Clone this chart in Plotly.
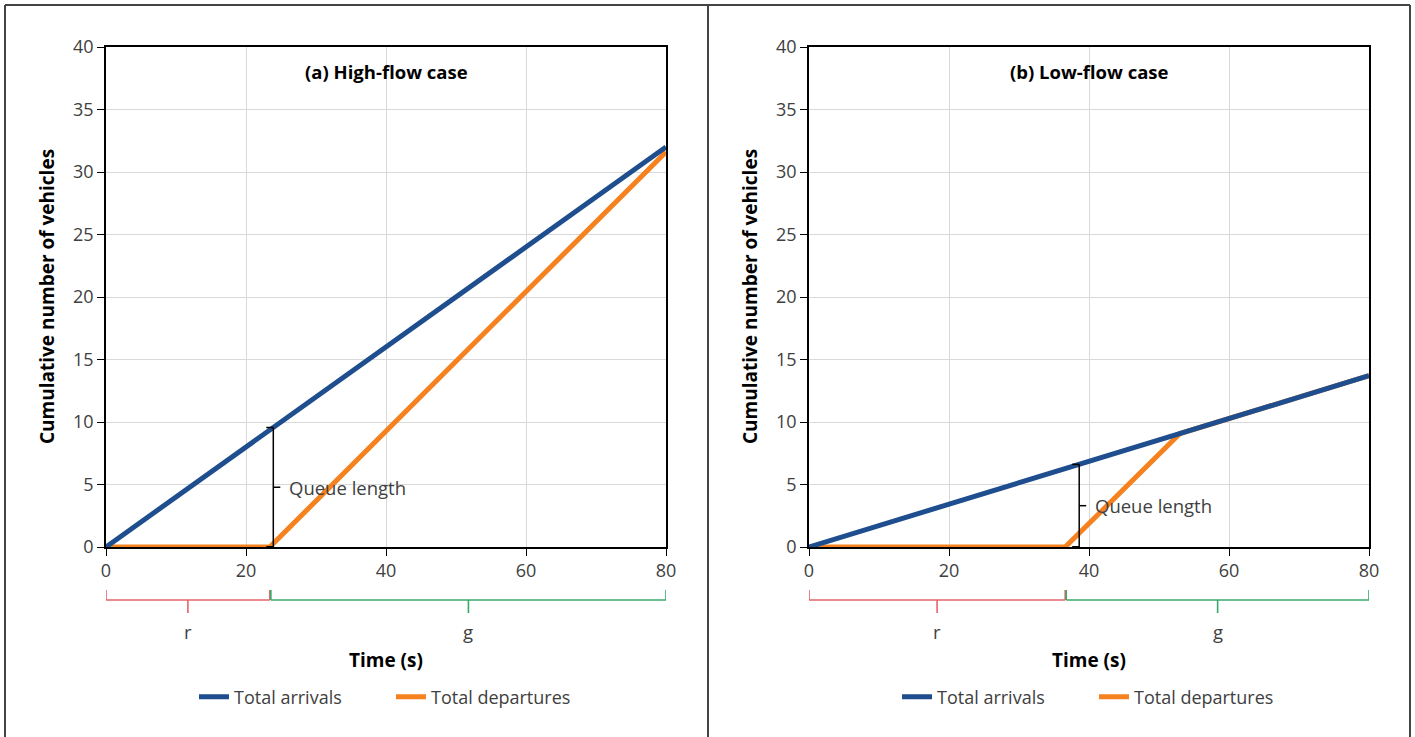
import plotly.graph_objects as go

# ---------------- data ----------------
time_a_arr = [0, 80]
cum_a_arr = [0, 32.0]
time_a_dep = [0, 23.4, 80]
cum_a_dep = [0, 0, 31.6]
red_a = 23.4
queue_t_a = 23.9
queue_n_a = 9.56

time_b_arr = [0, 80]
cum_b_arr = [0, 13.7]
time_b_dep = [0, 36.6, 53.0, 80]
cum_b_dep = [0, 0, 9.08, 13.7]
red_b = 36.6
queue_t_b = 38.6
queue_n_b = 6.61

cycle_end = 80
panel_titles = ["(a) High-flow case", "(b) Low-flow case"]
x_ticks = [0, 20, 40, 60, 80]
y_ticks = [0, 5, 10, 15, 20, 25, 30, 35, 40]

BLUE = "#1F4E8F"
ORANGE = "#F5821F"
RED = "#E5646B"
GREEN = "#3AA86B"
TXT = "#404040"
FONT = "Open Sans"

W, H = 1415, 737
def px(xp):
    return xp / W
def py(yp):
    return 1 - yp / H

fig = go.Figure()

doms = [(px(106), px(666)), (px(809), px(1369))]
ydom = (py(547), py(47))

panels = [
    dict(ta=time_a_arr, ca=cum_a_arr, td=time_a_dep, cd=cum_a_dep, r=red_a, qt=queue_t_a, qn=queue_n_a),
    dict(ta=time_b_arr, ca=cum_b_arr, td=time_b_dep, cd=cum_b_dep, r=red_b, qt=queue_t_b, qn=queue_n_b),
]

shapes = []
annotations = []
for i, p in enumerate(panels):
    xa = "x" if i == 0 else "x2"
    ya = "y" if i == 0 else "y2"
    leg = "legend" if i == 0 else "legend2"
    fig.add_trace(go.Scatter(x=p["td"], y=p["cd"], mode="lines", name="Total departures",
                             line=dict(color=ORANGE, width=5), xaxis=xa, yaxis=ya, legend=leg,
                             legendrank=2))
    fig.add_trace(go.Scatter(x=p["ta"], y=p["ca"], mode="lines", name="Total arrivals",
                             line=dict(color=BLUE, width=5), xaxis=xa, yaxis=ya, legend=leg,
                             legendrank=1))
    # queue length bracket
    tick_w = 1.0  # seconds (~7px)
    lk = dict(color="black", width=1.5)
    shapes += [
        dict(type="line", xref=xa, yref=ya, x0=p["qt"], x1=p["qt"], y0=0, y1=p["qn"], line=lk, layer="above"),
        dict(type="line", xref=xa, yref=ya, x0=p["qt"] - tick_w, x1=p["qt"], y0=p["qn"], y1=p["qn"], line=lk, layer="above"),
        dict(type="line", xref=xa, yref=ya, x0=p["qt"] - tick_w, x1=p["qt"], y0=0.02, y1=0.02, line=lk, layer="above"),
        dict(type="line", xref=xa, yref=ya, x0=p["qt"], x1=p["qt"] + tick_w, y0=p["qn"] / 2, y1=p["qn"] / 2, line=lk, layer="above"),
    ]
    annotations.append(dict(text="Queue length", xref=xa, yref=ya, x=p["qt"] + 2.0, y=p["qn"] / 2,
                            xanchor="left", yanchor="middle", showarrow=False,
                            font=dict(family=FONT, size=18.5, color=TXT)))
    # r / g brackets below the axis
    yb, yt, ym = py(600), py(590), py(613)
    for (a, b, col, lab) in [(0, p["r"], RED, "r"), (p["r"] + 0.15, cycle_end, GREEN, "g")]:
        lc = dict(color=col, width=1.6)
        mid = (a + b) / 2
        shapes += [
            dict(type="line", xref=xa, yref="paper", x0=a, x1=b, y0=yb, y1=yb, line=lc),
            dict(type="line", xref=xa, yref="paper", x0=a, x1=a, y0=yb, y1=yt, line=lc),
            dict(type="line", xref=xa, yref="paper", x0=b, x1=b, y0=yb, y1=yt, line=lc),
            dict(type="line", xref=xa, yref="paper", x0=mid, x1=mid, y0=yb, y1=ym, line=lc),
        ]
        annotations.append(dict(text=lab, xref=xa, yref="paper", x=mid, y=py(631),
                                xanchor="center", yanchor="middle", showarrow=False,
                                font=dict(family=FONT, size=18.5, color=TXT)))
    # panel title
    annotations.append(dict(text="<b>" + panel_titles[i] + "</b>", xref="paper", yref="paper",
                            x=(doms[i][0] + doms[i][1]) / 2, y=py(71), xanchor="center", yanchor="middle",
                            showarrow=False, font=dict(family=FONT, size=18.5, color="black")))
    # axis titles
    annotations.append(dict(text="<b>Time (s)</b>", xref="paper", yref="paper",
                            x=(doms[i][0] + doms[i][1]) / 2, y=py(660), xanchor="center", yanchor="middle",
                            showarrow=False, font=dict(family=FONT, size=19, color="black")))
    annotations.append(dict(text="<b>Cumulative number of vehicles</b>", xref="paper", yref="paper",
                            x=px(47 if i == 0 else 750), y=(ydom[0] + ydom[1]) / 2, textangle=-90,
                            xanchor="center", yanchor="middle",
                            showarrow=False, font=dict(family=FONT, size=19, color="black")))

# outer frame and divider
fr = dict(color="#444444", width=2)
shapes += [
    dict(type="line", xref="paper", yref="paper", x0=px(5), x1=px(1410), y0=py(5), y1=py(5), line=fr),
    dict(type="line", xref="paper", yref="paper", x0=px(5), x1=px(5), y0=py(5), y1=-0.05, line=fr),
    dict(type="line", xref="paper", yref="paper", x0=px(1410), x1=px(1410), y0=py(5), y1=-0.05, line=fr),
    dict(type="line", xref="paper", yref="paper", x0=px(708), x1=px(708), y0=py(5), y1=-0.05, line=fr),
]

axis_common = dict(range=[0, 80], tickvals=x_ticks, showgrid=True, gridcolor="#D9D9D9", gridwidth=1,
                   showline=True, linecolor="black", linewidth=1.5, mirror=True,
                   ticks="outside", ticklen=7, tickcolor="black", tickwidth=1,
                   tickfont=dict(family=FONT, size=18, color=TXT), zeroline=False, fixedrange=True)
yaxis_common = dict(range=[0, 40], tickvals=y_ticks, showgrid=True, gridcolor="#D9D9D9", gridwidth=1,
                    showline=True, linecolor="black", linewidth=1.5, mirror=True,
                    ticks="outside", ticklen=7, tickcolor="black", tickwidth=1,
                    tickfont=dict(family=FONT, size=18, color=TXT), zeroline=False, fixedrange=True)

legend_common = dict(orientation="h", yanchor="middle", y=py(697), xanchor="left",
                     font=dict(family=FONT, size=18, color=TXT), bgcolor="rgba(0,0,0,0)",
                     entrywidth=152, tracegroupgap=0)

fig.update_layout(
    width=W, height=H,
    margin=dict(l=0, r=0, t=0, b=0, pad=0, autoexpand=False),
    paper_bgcolor="white", plot_bgcolor="white",
    xaxis=dict(domain=list(doms[0]), anchor="y", **axis_common),
    yaxis=dict(domain=list(ydom), anchor="x", **yaxis_common),
    xaxis2=dict(domain=list(doms[1]), anchor="y2", **axis_common),
    yaxis2=dict(domain=list(ydom), anchor="x2", **yaxis_common),
    legend=dict(x=px(194), **legend_common),
    legend2=dict(x=px(897), **legend_common),
    shapes=shapes,
    annotations=annotations,
    showlegend=True,
)

fig.write_html("out.html")
